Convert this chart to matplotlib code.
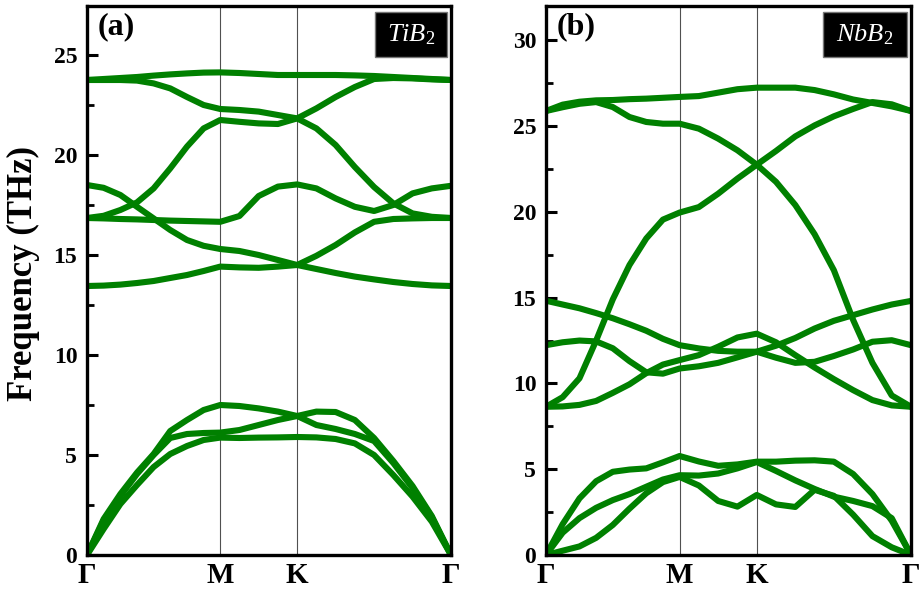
import numpy as np
import matplotlib
matplotlib.use("Agg")
import matplotlib.pyplot as plt
from matplotlib.patches import Rectangle

plt.rcParams['font.family'] = ['Liberation Serif', 'DejaVu Serif']
plt.rcParams['mathtext.fontset'] = 'custom'
plt.rcParams['mathtext.rm'] = 'Liberation Serif'
plt.rcParams['mathtext.it'] = 'Liberation Serif:italic'

# k-path positions (Gamma-M-K-Gamma, hexagonal)
kpts = [0.0, 0.866, 1.366, 2.366]
klabels = ["Γ", "M", "K", "Γ"]
k = [0.000, 0.108, 0.217, 0.325, 0.433, 0.541, 0.650, 0.758, 0.866,
     0.991, 1.116, 1.241, 1.366,
     1.491, 1.616, 1.741, 1.866, 1.991, 2.116, 2.241, 2.366]

# TiB2 branches (THz)
tib2_a1 = [0, 1.3, 2.55, 3.5, 4.4, 5.05, 5.45, 5.75, 5.87, 5.85, 5.87, 5.88, 5.9,
           5.88, 5.8, 5.58, 5.0, 4.0, 2.92, 1.67, 0]
tib2_a2 = [0, 1.72, 2.95, 4.05, 5.0, 5.85, 6.05, 6.1, 6.12, 6.25, 6.5, 6.75, 6.95,
           6.5, 6.3, 6.05, 5.7, 4.6, 3.35, 1.9, 0]
tib2_a3 = [0, 1.8, 3.05, 4.12, 5.05, 6.2, 6.75, 7.25, 7.5, 7.45, 7.33, 7.17, 6.95,
           7.17, 7.15, 6.75, 5.85, 4.7, 3.45, 1.95, 0]
tib2_o1 = [13.45, 13.47, 13.52, 13.6, 13.7, 13.85, 14.0, 14.2, 14.42, 14.38, 14.36, 14.42, 14.5,
           14.3, 14.1, 13.92, 13.78, 13.65, 13.55, 13.48, 13.45]
tib2_o2 = [18.5, 18.36, 18.0, 17.41, 16.83, 16.25, 15.75, 15.46, 15.3, 15.2, 15.0, 14.75, 14.5,
           14.96, 15.5, 16.13, 16.66, 16.8, 16.83, 16.85, 16.85]
tib2_o3 = [16.85, 16.83, 16.8, 16.78, 16.75, 16.72, 16.7, 16.68, 16.66, 16.95, 17.95, 18.42, 18.53,
           18.33, 17.83, 17.41, 17.2, 17.5, 18.08, 18.33, 18.46]
tib2_o4 = [16.85, 16.96, 17.25, 17.63, 18.33, 19.33, 20.42, 21.33, 21.75, 21.66, 21.58, 21.55, 21.83,
           21.33, 20.5, 19.4, 18.4, 17.58, 17.08, 16.91, 16.85]
tib2_o5 = [23.75, 23.75, 23.75, 23.72, 23.58, 23.33, 22.9, 22.5, 22.3, 22.25, 22.17, 22.0, 21.83,
           22.33, 22.9, 23.4, 23.8, 23.85, 23.83, 23.78, 23.75]
tib2_o6 = [23.75, 23.8, 23.85, 23.9, 23.97, 24.03, 24.08, 24.12, 24.13, 24.1, 24.05, 24.0, 24.0,
           24.0, 24.0, 23.98, 23.95, 23.9, 23.85, 23.8, 23.75]

# NbB2 branches (THz)
nbb2_a1 = [0, 0.25, 0.5, 1.0, 1.75, 2.7, 3.6, 4.25, 4.55, 4.05, 3.15, 2.82, 3.5,
           2.95, 2.8, 3.8, 3.45, 2.35, 1.1, 0.45, 0]
nbb2_a2 = [0, 1.3, 2.15, 2.75, 3.2, 3.55, 3.98, 4.4, 4.65, 4.63, 4.75, 5.05, 5.42,
           4.9, 4.35, 3.85, 3.4, 3.15, 2.85, 2.15, 0]
nbb2_a3 = [0, 1.8, 3.3, 4.3, 4.85, 4.98, 5.05, 5.4, 5.77, 5.45, 5.2, 5.28, 5.44,
           5.44, 5.5, 5.52, 5.44, 4.72, 3.55, 2.0, 0]
nbb2_o1 = [8.64, 8.66, 8.75, 8.98, 9.45, 9.95, 10.6, 11.1, 11.36, 11.65, 12.14, 12.68, 12.9,
           12.4, 11.65, 10.93, 10.25, 9.61, 9.03, 8.72, 8.64]
nbb2_o2 = [12.23, 12.4, 12.5, 12.45, 12.05, 11.3, 10.65, 10.57, 10.87, 11.0, 11.2, 11.52, 11.85,
           11.5, 11.2, 11.26, 11.6, 11.98, 12.43, 12.52, 12.23]
nbb2_o3 = [14.82, 14.6, 14.38, 14.1, 13.8, 13.45, 13.07, 12.6, 12.23, 12.04, 11.9, 11.85, 11.85,
           12.2, 12.65, 13.2, 13.65, 13.98, 14.31, 14.6, 14.81]
nbb2_o4 = [8.64, 9.2, 10.3, 12.5, 14.9, 16.9, 18.45, 19.55, 19.96, 20.28, 21.06, 21.94, 22.75,
           23.55, 24.4, 25.04, 25.57, 26.0, 26.4, 26.27, 25.88]
nbb2_o5 = [25.88, 26.1, 26.3, 26.4, 26.11, 25.53, 25.24, 25.14, 25.14, 24.85, 24.27, 23.59, 22.75,
           21.75, 20.4, 18.7, 16.6, 13.7, 11.2, 9.3, 8.64]
nbb2_o6 = [25.88, 26.25, 26.42, 26.5, 26.52, 26.57, 26.6, 26.65, 26.7, 26.75, 26.95, 27.15, 27.24,
           27.24, 27.24, 27.1, 26.85, 26.55, 26.35, 26.15, 25.88]

tib2 = [tib2_a1, tib2_a2, tib2_a3, tib2_o1, tib2_o2, tib2_o3, tib2_o4, tib2_o5, tib2_o6]
nbb2 = [nbb2_a1, nbb2_a2, nbb2_a3, nbb2_o1, nbb2_o2, nbb2_o3, nbb2_o4, nbb2_o5, nbb2_o6]

W, H = 922, 593
fig = plt.figure(figsize=(W / 100, H / 100), dpi=100)
ax1 = fig.add_axes([87 / W, 38 / H, 364 / W, 549 / H])
ax2 = fig.add_axes([546 / W, 38 / H, 365 / W, 549 / H])

panels = [(ax1, tib2, 27.45, [0, 5, 10, 15, 20, 25], "(a)", r"$\mathit{TiB}_{\mathit{2}}$", 0.791),
          (ax2, nbb2, 32.0, [0, 5, 10, 15, 20, 25, 30], "(b)", r"$\mathit{NbB}_{\mathit{2}}$", 0.759)]

for ax, bands, ytop, yt, tag, name, bx in panels:
    for b in bands:
        ax.plot(k, b, color="#008000", lw=4.4, solid_capstyle="round",
                solid_joinstyle="round", zorder=2)
    for kp in kpts[1:-1]:
        ax.axvline(kp, color="#505050", lw=0.8, zorder=1)
    ax.set_xlim(kpts[0], kpts[-1])
    ax.set_ylim(0, ytop)
    ax.set_xticks(kpts)
    ax.set_xticklabels(klabels, fontsize=21, fontweight="bold")
    ax.set_yticks(yt)
    ax.set_yticks(np.arange(2.5, ytop, 5), minor=True)
    ax.tick_params(axis="x", length=0, pad=5)
    ax.tick_params(axis="y", which="major", direction="in", length=8, width=2.2,
                   labelsize=17, pad=7)
    ax.tick_params(axis="y", which="minor", direction="in", length=5, width=2.0)
    for lab in ax.get_yticklabels():
        lab.set_fontweight("bold")
    for sp in ax.spines.values():
        sp.set_linewidth(2.4)
        sp.set_zorder(5)
    ax.text(0.03, 0.988, tag, transform=ax.transAxes, fontsize=23, fontweight="bold",
            ha="left", va="top")
    ax.add_patch(Rectangle((bx, 0.907), 0.989 - bx, 0.082, transform=ax.transAxes,
                           facecolor="black", edgecolor="#777777", lw=1.0, zorder=6))
    ax.text((bx + 0.989) / 2, 0.948, name, transform=ax.transAxes, color="white",
            fontsize=19, ha="center", va="center", zorder=7)

fig.text(0.026, 0.538, "Frequency (THz)", rotation=90, fontsize=25, fontweight="bold",
         ha="center", va="center")

fig.savefig("out.png", dpi=100)
